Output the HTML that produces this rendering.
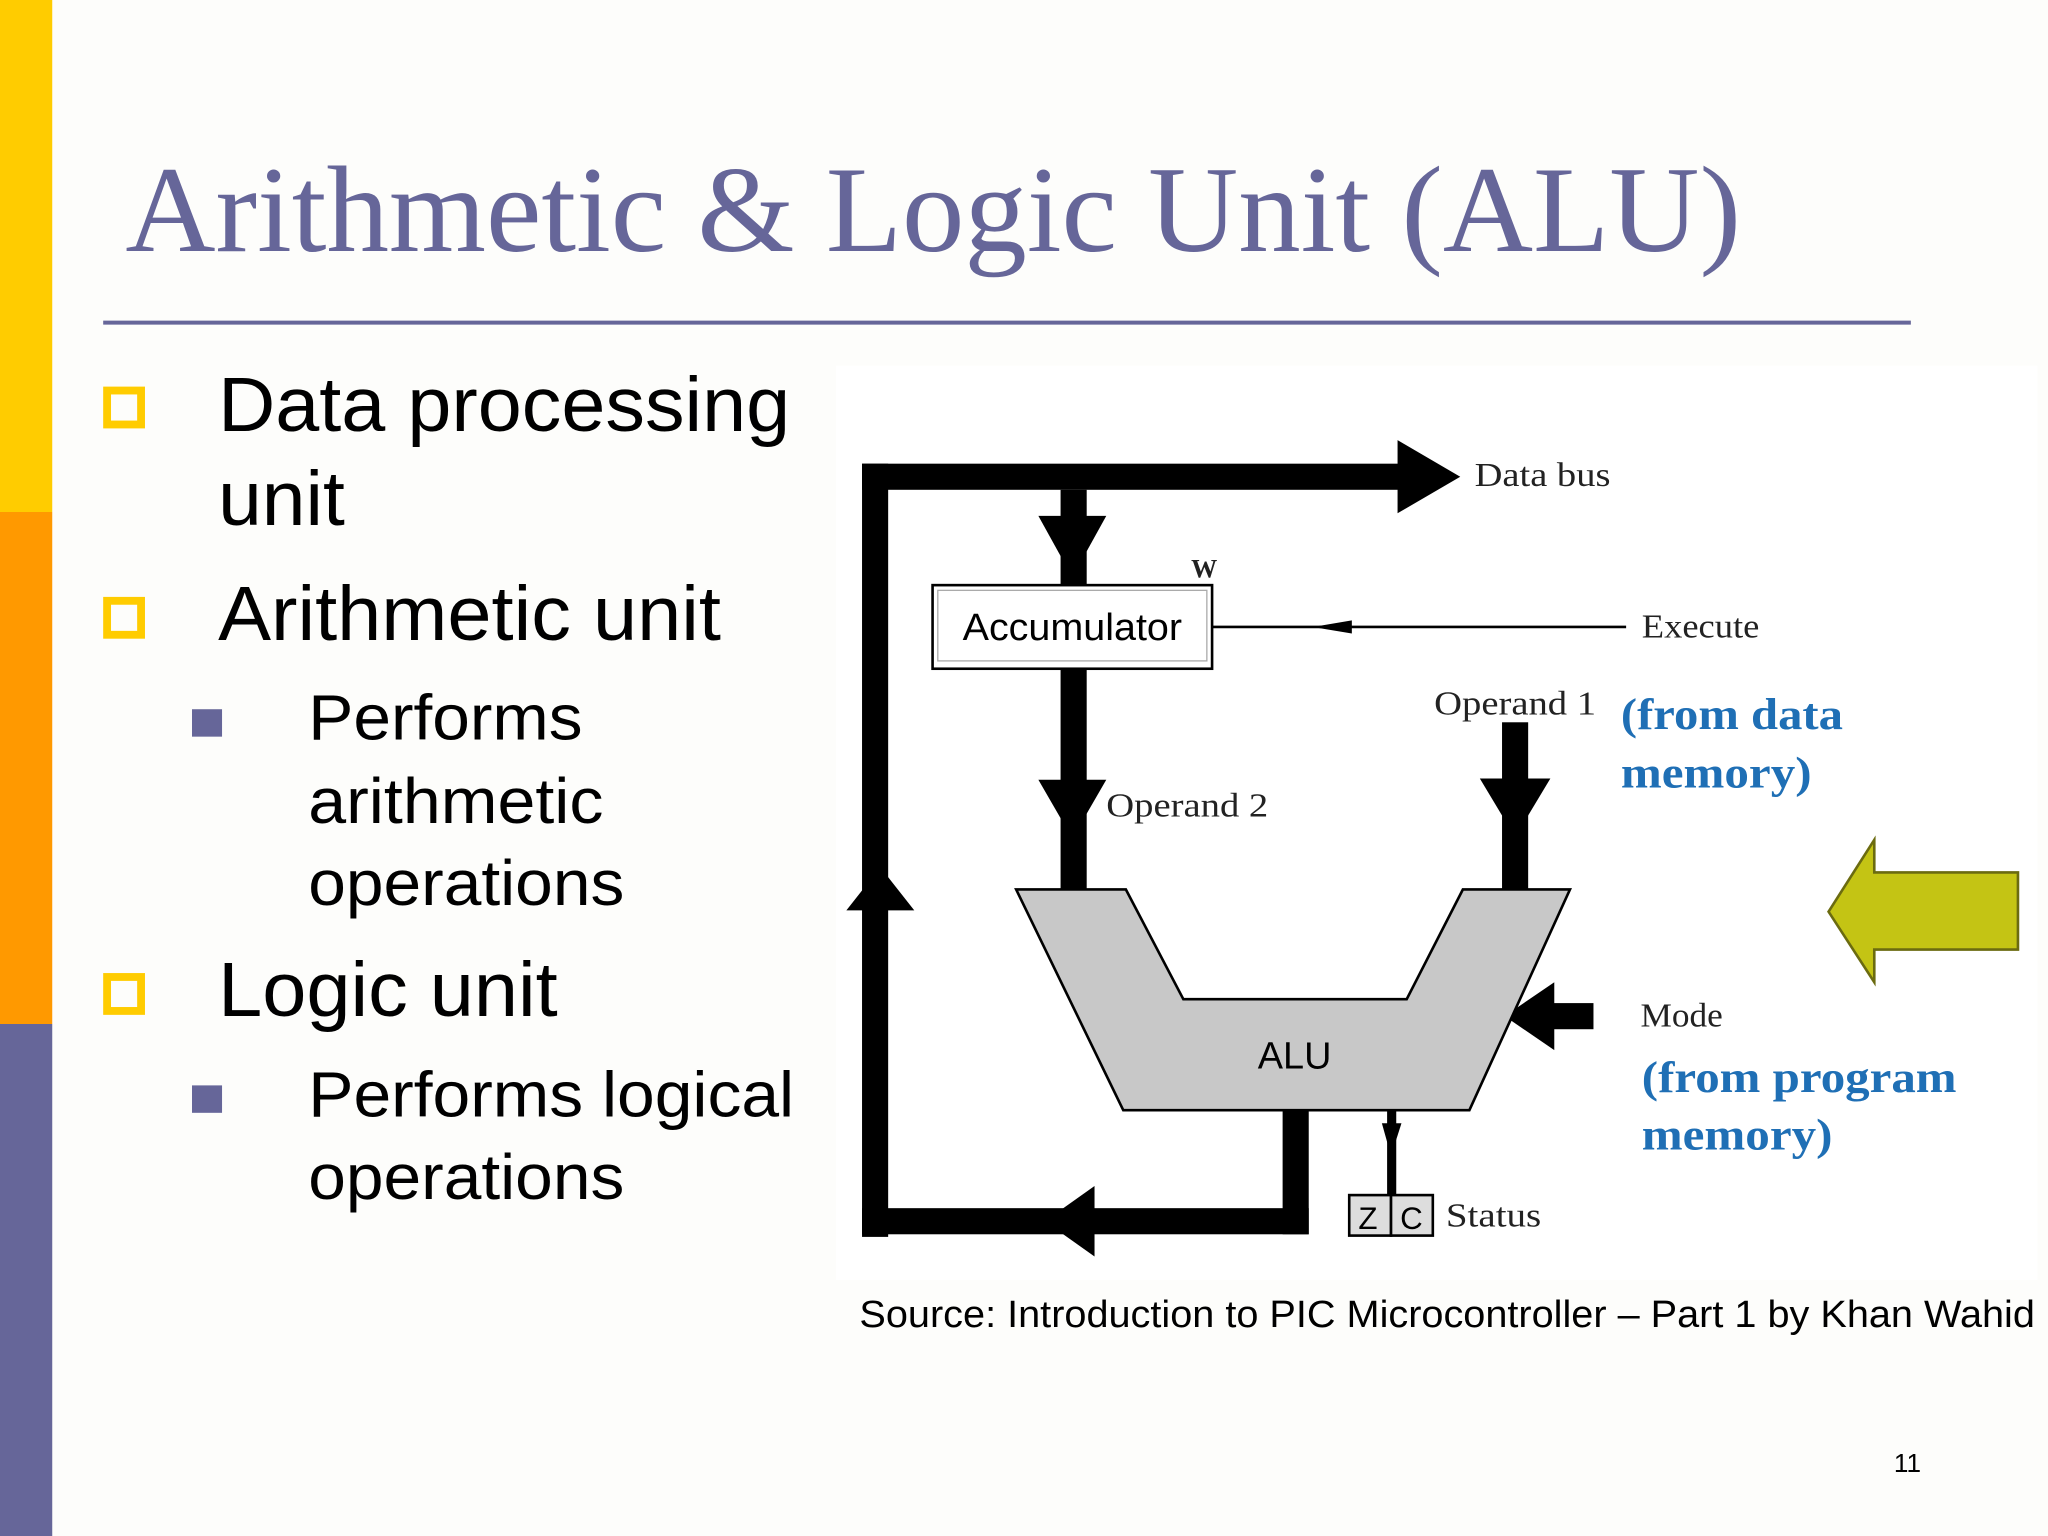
<!DOCTYPE html>
<html><head><style>
html,body{margin:0;padding:0;background:#fff;}
svg{display:block;}
</style></head><body>
<svg width="2048" height="1536" viewBox="0 0 1568 1176" xmlns="http://www.w3.org/2000/svg">
<rect width="1568" height="1176" fill="#fdfdfb"/>
<rect x="0" y="0" width="40" height="392" fill="#FFCC00"/>
<rect x="0" y="392" width="40" height="392" fill="#FF9900"/>
<rect x="0" y="784" width="40" height="392" fill="#666699"/>
<text x="96" y="192" font-family="Liberation Serif, serif" font-size="94" fill="#666699" textLength="1237" lengthAdjust="spacingAndGlyphs">Arithmetic &amp; Logic Unit (ALU)</text>
<line x1="79" y1="247" x2="1463" y2="247" stroke="#666699" stroke-width="3"/>
<g fill="none" stroke="#FFCC00" stroke-width="6">
<rect x="82" y="299" width="26" height="26"/>
<rect x="82" y="460" width="26" height="26"/>
<rect x="82" y="748" width="26" height="26"/>
</g>
<rect x="147" y="543" width="23" height="21" fill="#666699"/>
<rect x="147" y="831" width="23" height="21" fill="#666699"/>
<g font-family="Liberation Sans, sans-serif" fill="#000">
<text x="167" y="330" font-size="59" textLength="438" lengthAdjust="spacingAndGlyphs">Data processing</text>
<text x="167" y="402" font-size="59" textLength="97" lengthAdjust="spacingAndGlyphs">unit</text>
<text x="167" y="490" font-size="59" textLength="385" lengthAdjust="spacingAndGlyphs">Arithmetic unit</text>
<text x="236" y="566" font-size="49" textLength="210" lengthAdjust="spacingAndGlyphs">Performs</text>
<text x="236" y="630" font-size="49" textLength="226" lengthAdjust="spacingAndGlyphs">arithmetic</text>
<text x="236" y="693" font-size="49" textLength="242" lengthAdjust="spacingAndGlyphs">operations</text>
<text x="167" y="778" font-size="59" textLength="260" lengthAdjust="spacingAndGlyphs">Logic unit</text>
<text x="236" y="855" font-size="49" textLength="372" lengthAdjust="spacingAndGlyphs">Performs logical</text>
<text x="236" y="918" font-size="49" textLength="242" lengthAdjust="spacingAndGlyphs">operations</text>
<text x="658" y="1016" font-size="29" textLength="900" lengthAdjust="spacingAndGlyphs">Source: Introduction to PIC Microcontroller – Part 1 by Khan Wahid</text>
<text x="1450" y="1127" font-size="20">11</text>
</g>
<rect x="640" y="280" width="920" height="700" fill="#fff"/>
<g fill="#000">
<rect x="660" y="355" width="20" height="592"/>
<rect x="660" y="355" width="415" height="20"/>
<polygon points="1070,337 1118,365 1070,393"/>
<rect x="660" y="925" width="342" height="20"/>
<rect x="982" y="848" width="20" height="97"/>
<polygon points="838,908 838,962 800,935"/>
<polygon points="648,697 700,697 674,664"/>
<rect x="812" y="375" width="20" height="75"/>
<polygon points="795,395 847,395 821,442"/>
<rect x="812" y="512" width="20" height="170"/>
<polygon points="795,597 847,597 821,642"/>
<rect x="1150" y="553" width="20" height="128"/>
<polygon points="1133,596 1187,596 1160,641"/>
<rect x="1185" y="768" width="35" height="20"/>
<polygon points="1190,752 1190,804 1152,778"/>
<rect x="1062" y="850" width="7" height="66"/>
<polygon points="1058,860 1073,860 1065,885"/>
</g>
<polygon points="778,681 862,681 906,765 1077,765 1120,681 1202,681 1125,850 860,850" fill="#c8c8c8" stroke="#000" stroke-width="2"/>
<rect x="714" y="448" width="214" height="64" fill="#fff" stroke="#000" stroke-width="2"/>
<rect x="718" y="452" width="206" height="54" fill="none" stroke="#aaa" stroke-width="1"/>
<line x1="928" y1="480" x2="1245" y2="480" stroke="#000" stroke-width="2"/>
<polygon points="1005,480 1035,475 1035,485" fill="#000"/>
<rect x="1033" y="915" width="32" height="31" fill="#ddd" stroke="#000" stroke-width="2"/>
<rect x="1065" y="915" width="32" height="31" fill="#ddd" stroke="#000" stroke-width="2"/>
<polygon points="1400,698 1435,643 1435,668 1545,668 1545,727 1435,727 1435,752" fill="#c4c414" stroke="#6b6b10" stroke-width="2"/>
<g font-family="Liberation Sans, sans-serif" fill="#000">
<text x="737" y="490" font-size="29" textLength="168" lengthAdjust="spacingAndGlyphs">Accumulator</text>
<text x="963" y="818" font-size="29">ALU</text>
<text x="1040" y="941" font-size="24">Z</text>
<text x="1072" y="941" font-size="24">C</text>
</g>
<g font-family="Liberation Serif, serif" fill="#222" font-size="26" lengthAdjust="spacingAndGlyphs">
<text x="1129" y="372" textLength="104" lengthAdjust="spacingAndGlyphs">Data bus</text>
<text x="1257" y="488" textLength="90" lengthAdjust="spacingAndGlyphs">Execute</text>
<text x="1098" y="547" textLength="124" lengthAdjust="spacingAndGlyphs">Operand 1</text>
<text x="847" y="625" textLength="124" lengthAdjust="spacingAndGlyphs">Operand 2</text>
<text x="1256" y="786" textLength="63" lengthAdjust="spacingAndGlyphs">Mode</text>
<text x="1107" y="939" textLength="73" lengthAdjust="spacingAndGlyphs">Status</text>
<text x="912" y="442" font-size="20" font-weight="bold">W</text>
</g>
<g font-family="Liberation Serif, serif" fill="#1f6fb5" font-size="34" font-weight="bold">
<text x="1241" y="558" textLength="170" lengthAdjust="spacingAndGlyphs">(from data</text>
<text x="1241" y="603" textLength="146" lengthAdjust="spacingAndGlyphs">memory)</text>
<text x="1257" y="836" textLength="241" lengthAdjust="spacingAndGlyphs">(from program</text>
<text x="1257" y="880" textLength="146" lengthAdjust="spacingAndGlyphs">memory)</text>
</g>
</svg>
</body></html>
